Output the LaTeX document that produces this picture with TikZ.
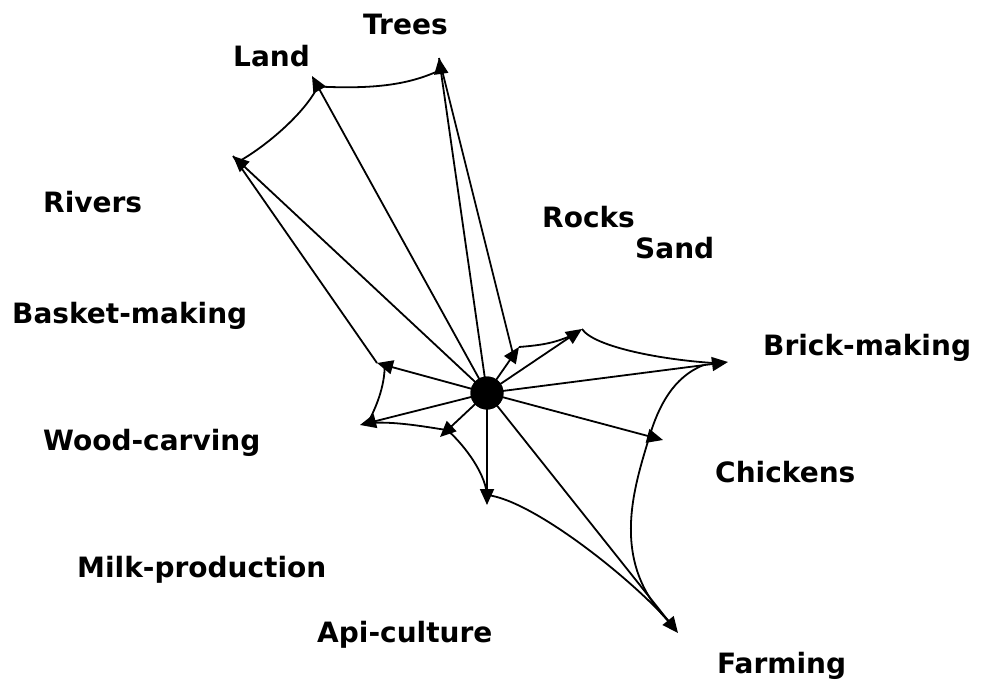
\documentclass[tikz,border=0pt]{standalone}
\usepackage{fontspec}
\setmainfont{DejaVu Sans}
\usetikzlibrary{arrows.meta,calc}
\begin{document}
\begin{tikzpicture}[x=1pt,y=-1pt,
  link/.style={line width=1.8pt},
  arr/.style={link,-{Triangle[length=16pt,width=14pt]}},
  lbl/.style={anchor=base west,inner sep=0pt,font=\fontsize{28}{34}\selectfont\bfseries},
  hubstyle/.style={circle,fill=black,minimum size=33pt,inner sep=0pt}]
\useasboundingbox (0,0) rectangle (983,682);

% labels
\node[lbl] (tTrees)   at (363,35)  {Trees};
\node[lbl] (tLand)    at (233,67)  {Land};
\node[lbl] (tRivers)  at (43,212)  {Rivers};
\node[lbl] (tRocks)   at (542,227) {Rocks};
\node[lbl] (tSand)    at (635,258) {Sand};
\node[lbl] (tBasket)  at (12,323)  {Basket-making};
\node[lbl] (tBrick)   at (763,355) {Brick-making};
\node[lbl] (tWood)    at (43,450)  {Wood-carving};
\node[lbl] (tChick)   at (715,482) {Chickens};
\node[lbl] (tMilk)    at (77,577)  {Milk-production};
\node[lbl] (tApi)     at (317,642) {Api-culture};
\node[lbl] (tFarm)    at (717,673) {Farming};

% hub and arrow tips
\node[hubstyle] (hub) at (487,393) {};
\coordinate (land)    at (312,76);
\coordinate (trees)   at (439,58);
\coordinate (rivers)  at (233,156);
\coordinate (rocks)   at (519,347);
\coordinate (sand)    at (582,329);
\coordinate (brick)   at (728,362);
\coordinate (chicken) at (663,440);
\coordinate (farming) at (678,633);
\coordinate (api)     at (487,505);
\coordinate (milk)    at (440,437);
\coordinate (wood)    at (360,425);
\coordinate (basket)  at (377,363);

% attachment points
\coordinate (landB)    at ($(land)!12pt!(hub)$);
\coordinate (treesB)   at ($(trees)!12pt!(hub)$);
\coordinate (riversB)  at ($(rivers)!8pt!(hub)$);
\coordinate (rocksB)   at ($(rocks)!10pt!(hub)$);
\coordinate (sandB)    at ($(sand)!10pt!(hub)$);
\coordinate (brickB)   at ($(brick)!10pt!(hub)$);
\coordinate (brickJ)   at ($(brick)!25pt!(hub)$);
\coordinate (chickenB) at ($(chicken)!14pt!(hub)$);
\coordinate (farmingB) at ($(farming)!15pt!(hub)$);
\coordinate (apiB)     at ($(api)!10pt!(hub)$);
\coordinate (milkB)    at ($(milk)!10pt!(hub)$);
\coordinate (woodB)    at ($(wood)!8pt!(hub)$);
\coordinate (basketB)  at ($(basket)!8pt!(hub)$);

% curves and links between tips
\draw[link] (landB) .. controls +(60,3) and +(-30,14) .. (treesB);
\draw[link] (landB) .. controls +(-12,25) and +(30,-17) .. (riversB);
\draw[link] (rivers) -- (basket);
\draw[link] (trees) -- (rocksB);
\draw[link] (rocks) .. controls +(25,-2) and +(-18,8) .. (sandB);
\draw[link] (sand) .. controls +(12,18) and +(-55,-3) .. (brickB);
\draw[link] (brickJ) .. controls +(-30,12) and +(9,-30) .. (chickenB);
\draw[link] (chickenB) .. controls +(-15,50) and +(-60,-60) .. (farmingB);
\draw[link] (apiB) .. controls +(45,5) and +(-40,-45) .. (farmingB);
\draw[link] (apiB) .. controls +(-2,-25) and +(12,10) .. (milkB);
\draw[link] (milkB) .. controls +(-25,-4) and +(25,-2) .. (woodB);
\draw[link] (woodB) .. controls +(8,-15) and +(0,22) .. (basketB);

% arrows from hub
\foreach \t in {land,trees,rivers,rocks,sand,brick,chicken,farming,api,milk,wood,basket}
  \draw[arr] (hub.center) -- (\t);
\node[hubstyle] at (hub) {};
\end{tikzpicture}
\end{document}
